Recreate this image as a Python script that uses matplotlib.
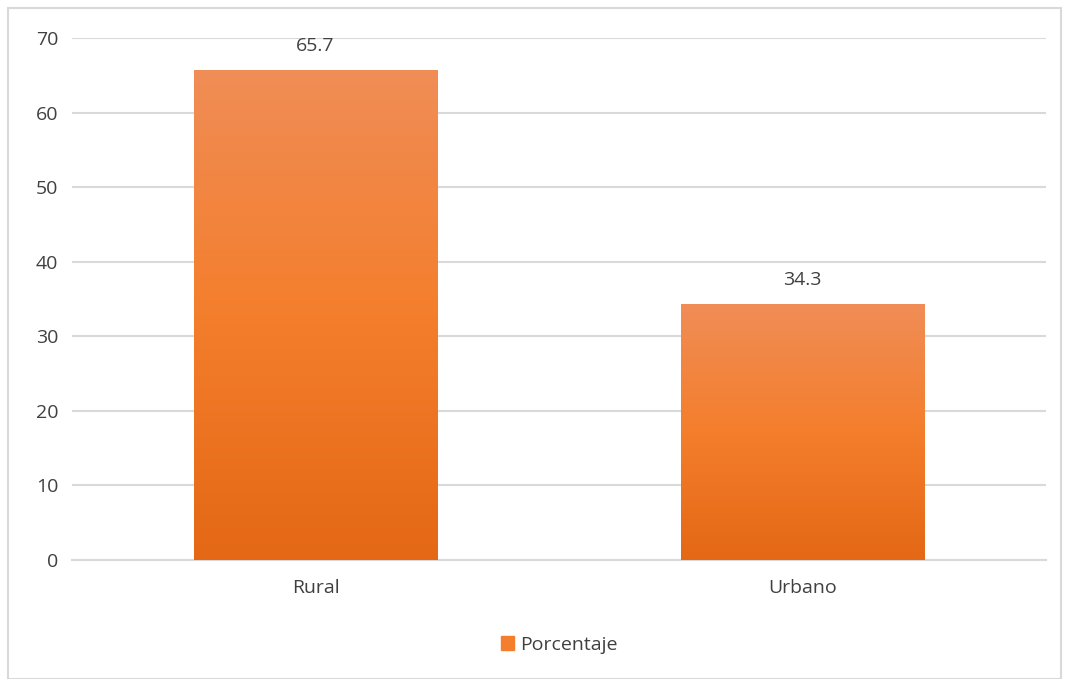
import numpy as np
import matplotlib.pyplot as plt
from matplotlib.colors import LinearSegmentedColormap
from matplotlib.patches import Rectangle
import matplotlib.patheffects as pe

categorias = ['Rural', 'Urbano']
porcentaje = [65.7, 34.3]

plt.rcParams['font.family'] = ['Open Sans', 'DejaVu Sans']

fig = plt.figure(figsize=(10.65, 6.79), dpi=100)
ax = fig.add_axes([72/1065, 1-560/679, 974/1065, 522/679])

# borde del grafico
fig.patches.append(Rectangle((8/1065, 0), 1053/1065, 671/679, transform=fig.transFigure,
                             fill=False, edgecolor='#D9D9D9', linewidth=1.5))

grad = LinearSegmentedColormap.from_list('g', ['#E46815', '#F47E2C', '#F08D56'])

x = np.arange(len(categorias))
bars = ax.bar(x, porcentaje, width=0.5, color='none', zorder=3)
for b, v in zip(bars, porcentaje):
    b.set_path_effects([pe.SimplePatchShadow(offset=(0, 0), shadow_rgbFace='#999999', alpha=0.35), pe.Normal()])
    img = ax.imshow(np.linspace(0, 1, 256).reshape(-1, 1), cmap=grad, origin='lower',
                    extent=[b.get_x(), b.get_x() + b.get_width(), 0, v], aspect='auto', zorder=3)
    img.set_clip_path(b)
    ax.text(b.get_x() + b.get_width()/2, v + 2.0, f'{v}', ha='center', va='bottom',
            fontsize=14, color='#404040')

ax.set_xlim(-0.5, 1.5)
ax.set_ylim(0, 70)
ax.set_yticks(range(0, 71, 10))
ax.set_xticks(x)
ax.set_xticklabels(categorias)
ax.yaxis.grid(True, color='#D9D9D9', linewidth=1.5)
ax.set_axisbelow(True)
for s in ax.spines.values():
    s.set_visible(False)
ax.spines['bottom'].set_visible(True)
ax.spines['bottom'].set_color('#D9D9D9')
ax.spines['bottom'].set_linewidth(1.5)
ax.tick_params(length=0, labelsize=14, labelcolor='#404040')
ax.tick_params(axis='y', pad=10)
ax.tick_params(axis='x', pad=14)

ax.legend([Rectangle((0, 0), 1, 1, color='#F47E2C')], ['Porcentaje'], loc='center',
          bbox_to_anchor=(0.5, -0.162), frameon=False, fontsize=14, handlelength=0.7,
          handleheight=0.7, handletextpad=0.3, labelcolor='#404040')

fig.savefig('out.png', dpi=100)
